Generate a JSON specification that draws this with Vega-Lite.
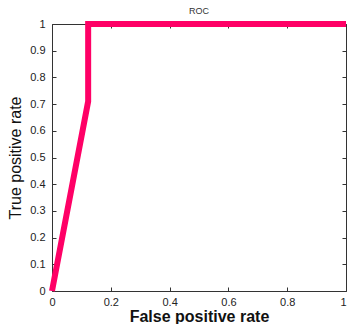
{
  "$schema": "https://vega.github.io/schema/vega-lite/v6.json",
  "width": 294,
  "height": 267,
  "autosize": "none",
  "padding": {"left": 52, "top": 24, "right": 2, "bottom": 33},
  "background": "white",
  "title": {"text": "ROC", "fontSize": 9, "fontWeight": "normal", "font": "Liberation Sans", "color": "#333", "offset": 4, "dy": 8},
  "data": {"values": [
    {"fpr": 0, "tpr": 0},
    {"fpr": 0.123, "tpr": 0.71},
    {"fpr": 0.123, "tpr": 1},
    {"fpr": 1, "tpr": 1}
  ]},
  "config": {
    "view": {"stroke": "#333", "strokeWidth": 1},
    "axis": {"grid": false, "domain": false, "labelFont": "Liberation Sans", "titleFont": "Liberation Sans", "labelColor": "#222", "titleColor": "#111", "tickColor": "#333", "labelFontSize": 11, "labelFlush": false, "tickSize": 4, "offset": -4}
  },
  "resolve": {"axis": {"x": "independent", "y": "independent"}},
  "layer": [
    {
      "mark": {"type": "line", "color": "#FF0066", "strokeWidth": 6, "clip": false},
      "encoding": {
        "x": {"field": "fpr", "type": "quantitative", "scale": {"domain": [0, 1], "nice": false},
          "axis": {"values": [0, 0.2, 0.4, 0.6, 0.8, 1], "format": "~g", "labelPadding": 5, "labelAlign": {"condition": {"test": "datum.value == 1", "value": "right"}, "value": "center"}, "labelDx": {"condition": {"test": "datum.value == 1", "value": 1}, "value": 0}, "title": "False positive rate", "titleFontSize": 16, "titleFontWeight": "bold", "titlePadding": 1}},
        "y": {"field": "tpr", "type": "quantitative", "scale": {"domain": [0, 1], "nice": false},
          "axis": {"values": [0, 0.1, 0.2, 0.3, 0.4, 0.5, 0.6, 0.7, 0.8, 0.9, 1], "format": "~g", "labelPadding": 7, "title": "True positive rate", "titleFontSize": 16, "titleFontWeight": "normal", "titlePadding": 6}}
      }
    },
    {
      "mark": {"type": "point", "opacity": 0},
      "encoding": {
        "x": {"field": "fpr", "type": "quantitative", "scale": {"domain": [0, 1], "nice": false},
          "axis": {"orient": "top", "values": [0, 0.2, 0.4, 0.6, 0.8, 1], "labels": false, "title": null}},
        "y": {"field": "tpr", "type": "quantitative", "scale": {"domain": [0, 1], "nice": false},
          "axis": {"orient": "right", "values": [0, 0.1, 0.2, 0.3, 0.4, 0.5, 0.6, 0.7, 0.8, 0.9, 1], "labels": false, "title": null}}
      }
    }
  ]
}
